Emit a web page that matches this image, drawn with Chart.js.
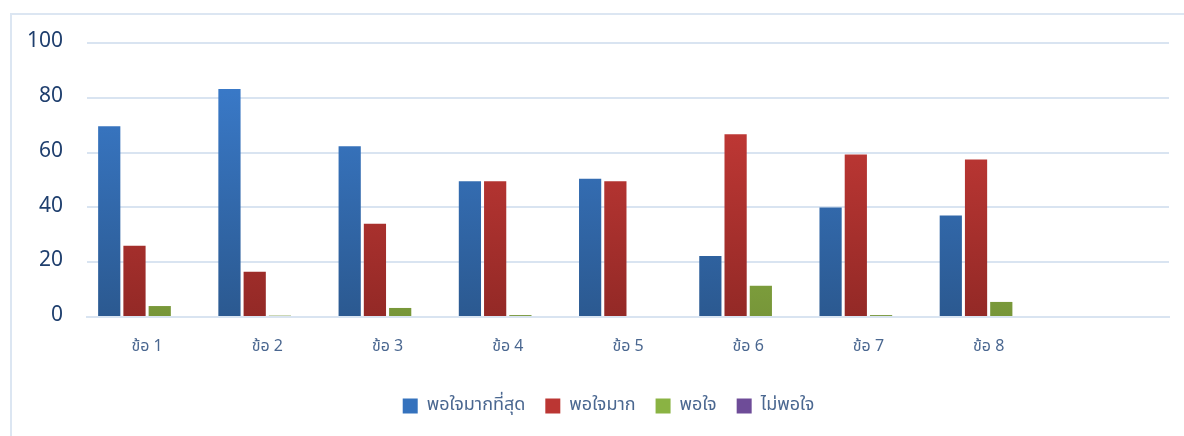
<!DOCTYPE html>
<html>
<head>
<meta charset="utf-8">
<script src="https://cdn.jsdelivr.net/npm/chart.js@4/dist/chart.umd.min.js"></script>
<style>
  html, body { margin: 0; padding: 0; background: #fff; overflow: hidden; }
  #wrap { position: relative; width: 1184px; height: 436px; }
  #frame { position: absolute; left: 10px; top: 13px; width: 1200px; height: 450px;
           border-left: 2px solid #dce6f2; border-top: 2px solid #dce6f2; }
  canvas { position: absolute; left: 0; top: 0; }
</style>
</head>
<body>
<div id="wrap">
  <div id="frame"></div>
  <canvas id="myChart" width="1184" height="436"></canvas>
</div>
<script>
let categories = ["ข้อ 1", "ข้อ 2", "ข้อ 3", "ข้อ 4", "ข้อ 5", "ข้อ 6", "ข้อ 7", "ข้อ 8", ""];
let mostSatisfied = [69.6, 83.2, 62.3, 49.5, 50.5, 22.3, 40, 37, null];
let verySatisfied = [26, 16.5, 34, 49.5, 49.5, 66.7, 59.3, 57.5, null];
let satisfied = [4, 0.5, 3.3, 0.7, 0, 11.4, 0.7, 5.5, null];
let notSatisfied = [0, 0, 0, 0, 0, 0, 0, 0, null];
let yTicks = [0, 20, 40, 60, 80, 100];

function grad(top, bottom) {
  return function (c) {
    let area = c.chart.chartArea;
    if (!area) return bottom;
    let g = c.chart.ctx.createLinearGradient(0, area.top, 0, area.bottom);
    g.addColorStop(0, top);
    g.addColorStop(1, bottom);
    return g;
  };
}

// legend sits a bit right of centre in the original
let legendShift = {
  id: "legendShift",
  afterLayout: function (ch) {
    if (ch.legend) {
      ch.legend.left += 24;
      ch.legend.right += 24;
    }
  },
};

let fontFam = "Tahoma, 'Noto Sans Thai', 'Noto Sans', sans-serif";
let canvas = document.getElementById("myChart");
let ctx = canvas.getContext("2d");
let chart = new Chart(ctx, {
  type: "bar",
  data: {
    labels: categories,
    datasets: [
      { label: "พอใจมากที่สุด", data: mostSatisfied, backgroundColor: grad("#3c7fd2", "#2b5990"), legendColor: "#3572bd" },
      { label: "พอใจมาก", data: verySatisfied, backgroundColor: grad("#d23e3b", "#932926"), legendColor: "#bb3633" },
      { label: "พอใจ", data: satisfied, backgroundColor: grad("#9dc94b", "#779639"), legendColor: "#8ab343" },
      { label: "ไม่พอใจ", data: notSatisfied, backgroundColor: grad("#7d58aa", "#5d3f84"), legendColor: "#6e4c98" },
    ],
  },
  options: {
    responsive: false,
    animation: false,
    categoryPercentage: 0.84,
    barPercentage: 0.88,
    layout: { padding: { top: 43, right: 15, left: 0, bottom: 11 } },
    plugins: {
      tooltip: { enabled: false },
      legend: {
        position: "bottom",
        labels: {
          boxWidth: 15,
          boxHeight: 15,
          padding: 20,
          color: "#4a6790",
          font: { family: fontFam, size: 18 },
          generateLabels: function (ch) {
            return ch.data.datasets.map(function (ds, i) {
              return { text: ds.label, fillStyle: ds.legendColor, strokeStyle: ds.legendColor, lineWidth: 0, datasetIndex: i, fontColor: "#4a6790" };
            });
          },
        },
      },
    },
    scales: {
      x: {
        grid: { display: false },
        border: { display: true, color: "#d9e4f1", width: 2 },
        ticks: { color: "#4a6790", font: { family: fontFam, size: 16 }, padding: 13, maxRotation: 0 },
        afterFit: function (s) { s.height = 60; },
      },
      y: {
        min: 0,
        max: 100,
        afterBuildTicks: function (s) { s.ticks = yTicks.map(function (v) { return { value: v }; }); },
        grid: { color: "#d9e4f1", lineWidth: 2, drawTicks: false },
        border: { display: false },
        ticks: { color: "#1f3f6e", font: { family: fontFam, size: 21 }, padding: 24 },
        afterFit: function (s) { s.width = 87; },
      },
    },
  },
  plugins: [legendShift],
});
</script>
</body>
</html>
